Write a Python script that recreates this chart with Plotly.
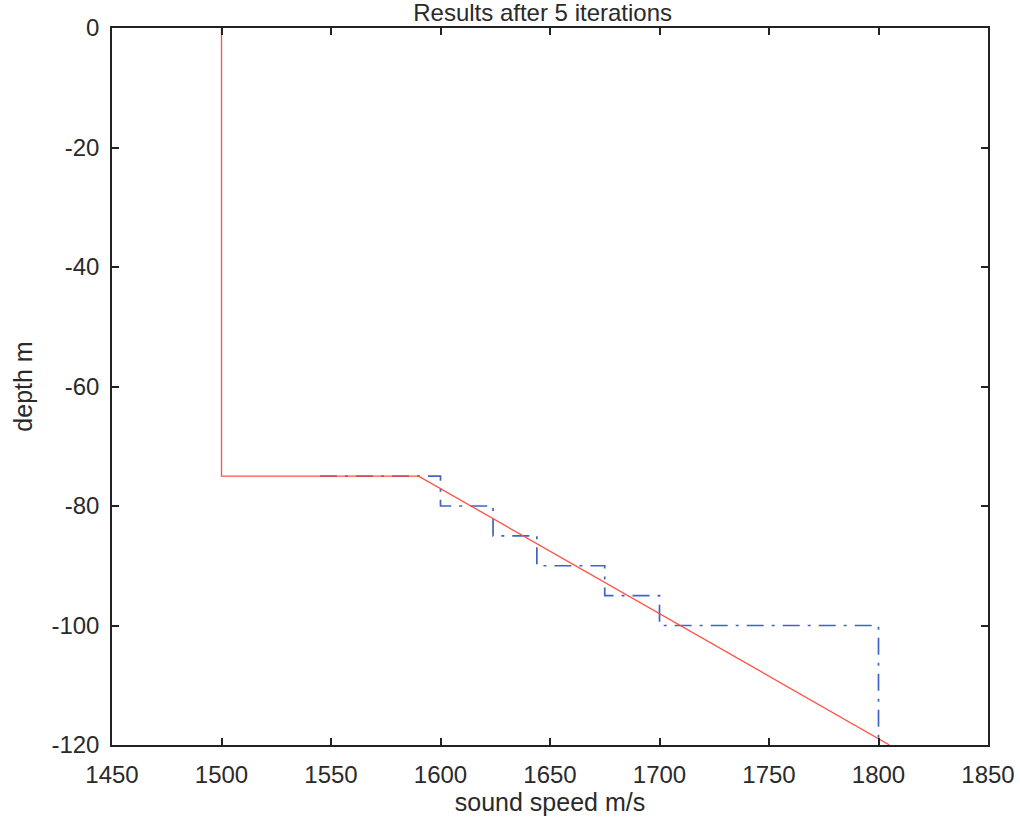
import plotly.graph_objects as go

# True sound speed profile (m/s vs depth m)
true_speed = [1500, 1500, 1590, 1805]
true_depth = [0, -75, -75, -120]

# Layered estimate after 5 iterations (stepwise profile)
est_speed = [1545, 1600, 1600, 1624, 1624, 1644, 1644, 1675, 1675, 1700, 1700, 1800, 1800]
est_depth = [-75, -75, -80, -80, -85, -85, -90, -90, -95, -95, -100, -100, -120]

x_ticks = [1450, 1500, 1550, 1600, 1650, 1700, 1750, 1800, 1850]
y_ticks = [0, -20, -40, -60, -80, -100, -120]
y_tick_text = ["0", "-20", "-40", "-60", "-80", "-100", "-120"]

font_family = "Liberation Sans, Arial, sans-serif"
text_color = "#2a2a2a"

fig = go.Figure()
fig.add_trace(go.Scatter(
    x=est_speed, y=est_depth, mode="lines",
    line=dict(color="#4164c4", width=1.7, dash="17px,8px,3px,8px"),
    showlegend=False,
))
fig.add_trace(go.Scatter(
    x=true_speed, y=true_depth, mode="lines",
    line=dict(color="#ff5040", width=1.3),
    showlegend=False,
))

axis_common = dict(
    showgrid=False, zeroline=False,
    showline=True, linecolor="#222", linewidth=1.5,
    mirror="ticks", ticks="inside", ticklen=7, tickwidth=1.5, tickcolor="#222",
    tickfont=dict(family=font_family, size=24, color=text_color),
)

fig.update_layout(
    width=1020, height=823,
    margin=dict(l=112, r=32, t=28, b=78),
    paper_bgcolor="white", plot_bgcolor="white",
    title=dict(text="Results after 5 iterations", x=0.532, xanchor="center",
               y=0.985, yanchor="middle",
               font=dict(family=font_family, size=24, color=text_color)),
    xaxis=dict(range=[1450, 1850], tickvals=x_ticks, ticklabelstandoff=7,
               title=dict(text="sound speed m/s", standoff=6,
                          font=dict(family=font_family, size=25, color=text_color)),
               automargin=False,
               **axis_common),
    yaxis=dict(range=[-120, 0], tickvals=y_ticks, ticktext=y_tick_text,
               ticklabelstandoff=6,
               title=dict(text="depth m", standoff=12,
                          font=dict(family=font_family, size=25, color=text_color)),
               automargin=False,
               **axis_common),
)

fig.write_html("out.html")
